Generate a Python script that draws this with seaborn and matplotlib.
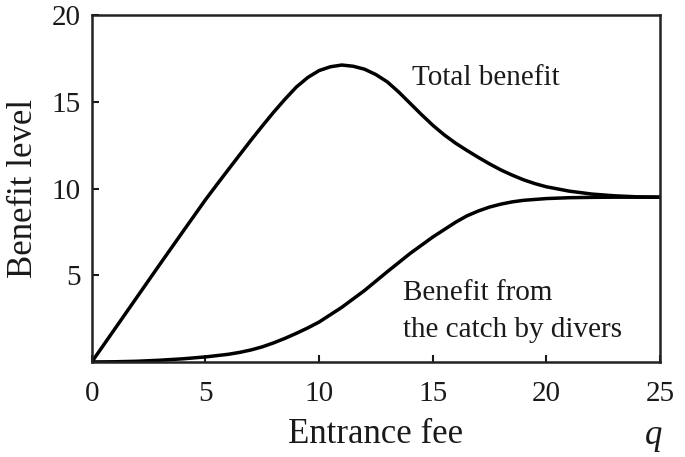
import matplotlib
matplotlib.use("Agg")
import pandas as pd
import numpy as np
import matplotlib.pyplot as plt
import seaborn as sns

# values (denser near the bends)
total_fee = [0, 1, 2, 3, 4, 5, 5.5, 6, 6.5, 7, 7.5, 8, 8.5, 9, 9.5, 10, 10.5,
             11, 11.5, 12, 12.5, 13, 13.5, 14, 14.5, 15, 15.5, 16, 16.5, 17,
             17.5, 18, 18.5, 19, 19.5, 20, 21, 22, 23, 24, 25]
total_benefit = [0, 1.88, 3.76, 5.64, 7.5, 9.35, 10.22, 11.08, 11.93, 12.78,
                 13.6, 14.4, 15.15, 15.85, 16.4, 16.8, 17.02, 17.12, 17.05,
                 16.88, 16.57, 16.15, 15.57, 14.92, 14.27, 13.65, 13.1, 12.62,
                 12.2, 11.8, 11.42, 11.07, 10.77, 10.5, 10.28, 10.1, 9.85,
                 9.68, 9.58, 9.52, 9.5]

catch_fee = [0, 1, 2, 3, 4, 5, 6, 6.5, 7, 7.5, 8, 8.5, 9, 9.5, 10, 11, 12, 13,
             14, 15, 16, 16.5, 17, 17.5, 18, 18.5, 19, 20, 21, 22, 23, 24, 25]
catch_benefit = [0, 0.01, 0.04, 0.1, 0.18, 0.29, 0.44, 0.55, 0.69, 0.87, 1.1,
                 1.36, 1.65, 1.96, 2.3, 3.15, 4.12, 5.2, 6.25, 7.2, 8.05, 8.42,
                 8.7, 8.93, 9.1, 9.23, 9.32, 9.42, 9.47, 9.49, 9.5, 9.5, 9.5]

df = pd.DataFrame({"fee": total_fee + catch_fee,
                   "benefit": total_benefit + catch_benefit,
                   "curve": ["total"] * len(total_fee) + ["catch"] * len(catch_fee)})

sns.set_style("ticks")
plt.rcParams['font.family'] = ['Liberation Serif', 'DejaVu Serif']
ink = "#1a1a1a"

fig = plt.figure(figsize=(6.85, 4.57), dpi=100)
ax = fig.add_axes([0.134, 0.208, 0.8295, 0.759])

sns.lineplot(data=df, x="fee", y="benefit", units="curve", estimator=None,
             sort=False, color="black", linewidth=2.5, ax=ax)

ax.set_xlim(0, 25)
ax.set_ylim(0, 20)
ax.set_xticks([0, 5, 10, 15, 20, 25])
ax.set_yticks([5, 10, 15, 20])
ax.tick_params(direction="in", length=5, width=1.5, labelsize=21,
               colors=ink)
ax.tick_params(axis="x", pad=14)
ax.tick_params(axis="y", pad=8)
for s in ax.spines.values():
    s.set_linewidth(1.8)
    s.set_color("#222222")

ax.set_xlabel("Entrance fee", fontsize=25, color=ink, labelpad=8)
ax.set_ylabel("Benefit level", fontsize=25, color=ink, labelpad=8)
ax.text(24.7, -0.165, "q", transform=ax.get_xaxis_transform(), fontsize=25,
        style="italic", color=ink, ha="center", va="top")

ax.text(14.08, 15.97, "Total benefit", fontsize=21, color=ink, va="baseline")
ax.text(13.7, 3.57, "Benefit from", fontsize=21, color=ink, va="baseline")
ax.text(13.7, 1.46, "the catch by divers", fontsize=21, color=ink,
        va="baseline")

fig.savefig("out.png", dpi=100)
